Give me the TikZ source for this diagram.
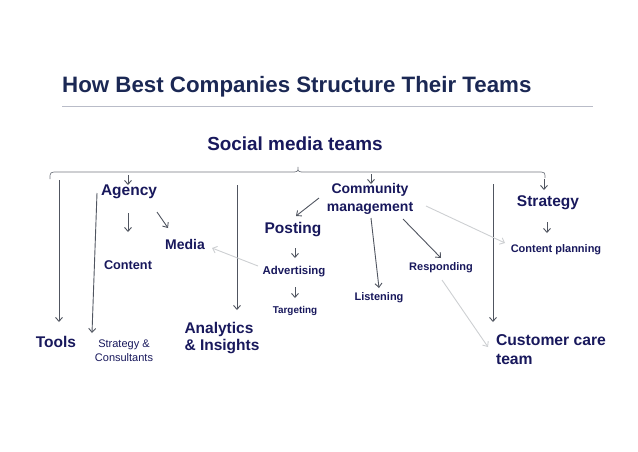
\documentclass[tikz,border=0pt]{standalone}
\usepackage{fontspec}
\setmainfont{Liberation Sans}
\usetikzlibrary{arrows.meta}
\definecolor{titlec}{RGB}{27,40,84}
\definecolor{navy}{RGB}{24,24,92}
\definecolor{arrc}{RGB}{80,85,96}
\definecolor{lightc}{RGB}{205,207,210}
\definecolor{rulec}{RGB}{185,188,200}
\tikzset{
  lbl/.style={inner sep=0pt, text=navy, font=\bfseries, align=center},
  big/.style={lbl, font=\fontsize{15.5}{17}\selectfont\bfseries},
  mid/.style={lbl, font=\fontsize{14}{18}\selectfont\bfseries},
  sml/.style={lbl, font=\fontsize{11}{13}\selectfont\bfseries},
  arr/.style={draw=arrc, line width=0.9pt, -{Straight Barb[length=4pt,width=7pt]}},
  larr/.style={draw=lightc, line width=0.9pt, -{Straight Barb[length=4pt,width=7pt]}},
}
\begin{document}
\begin{tikzpicture}[x=1pt,y=-1pt]
\useasboundingbox (0,0) rectangle (638,451);
% title
\node[inner sep=0pt, anchor=west, text=titlec, font=\fontsize{22.3}{26}\selectfont\bfseries] (title) at (62,87) {How Best Companies Structure Their Teams};
\draw[rulec, line width=0.8pt] (62,106) -- (593,106);
\node[lbl, font=\fontsize{18.9}{22}\selectfont\bfseries] (social) at (295,144) {Social media teams};
% brace
\draw[arrc!80, line width=0.7pt] (50,179) .. controls (50,172) .. (58,172) -- (290,172) .. controls (298,172) .. (298,167) .. controls (298,172) .. (306,172) -- (537,172) .. controls (545,172) .. (545,178);
% nodes
\node[big] (agency) at (129,192) {Agency};
\node[mid] (community) at (370,199) {Community\\management};
\node[big] (strategy) at (548,203) {Strategy};
\node[big] (posting) at (293,230) {Posting};
\node[mid] (media) at (185,244) {Media};
\node[lbl, font=\fontsize{12.7}{15}\selectfont\bfseries] (content) at (128,265) {Content};
\node[lbl, font=\fontsize{11.4}{13}\selectfont\bfseries] (advertising) at (294,272) {Advertising};
\node[sml] (responding) at (441,268) {Responding};
\node[sml] (cplanning) at (556,250) {Content planning};
\node[sml] (listening) at (379,298) {Listening};
\node[lbl, font=\fontsize{9.9}{12}\selectfont\bfseries] (targeting) at (295,311) {Targeting};
\node[big] (tools) at (56,342) {Tools};
\node[inner sep=0pt, text=navy, align=center, font=\fontsize{11}{14}\selectfont] (stratcons) at (124,351) {Strategy \&\\Consultants};
\node[big, align=left, font=\fontsize{15.5}{17}\selectfont\bfseries] (analytics) at (222,338) {Analytics\\\& Insights};
\node[big, align=left, font=\fontsize{15.7}{19}\selectfont\bfseries] (customer) at (551,350) {Customer care\\team};
% free-end coordinates
\coordinate (bA) at (128,175);
\coordinate (bC) at (371,174);
\coordinate (bS) at (544,179);
\coordinate (bT) at (59,180);
\coordinate (bSC) at (97,193);
\coordinate (bAn) at (237,185);
\coordinate (bCu) at (493,184);
% dark arrows
\draw[arr] (bA) -- ([shift={(-1,-7)}]agency.center);
\draw[arr] (bC) -- ([shift={(1,-15)}]community.center);
\draw[arr] (bS) -- ([shift={(-4,-13)}]strategy.center);
\draw[arr] (bT) -- ([shift={(3,-20)}]tools.center);
\draw[arr] (bSC) -- ([shift={(-32,-18)}]stratcons.center);
\draw[arr] (bAn) -- ([shift={(15,-28)}]analytics.center);
\draw[arr] (bCu) -- ([shift={(-58,-28)}]customer.center);
\draw[arr] ([shift={(-1,21)}]agency.center) -- ([shift={(0,-33)}]content.center);
\draw[arr] ([shift={(28,20)}]agency.center) -- ([shift={(-17,-16)}]media.center);
\draw[arr] ([shift={(-51,-1)}]community.center) -- ([shift={(3,-14)}]posting.center);
\draw[arr] ([shift={(2,18)}]posting.center) -- ([shift={(1,-14)}]advertising.center);
\draw[arr] ([shift={(1,15)}]advertising.center) -- ([shift={(0,-13)}]targeting.center);
\draw[arr] ([shift={(1,19)}]community.center) -- ([shift={(0,-10)}]listening.center);
\draw[arr] ([shift={(33,20)}]community.center) -- ([shift={(0,-10)}]responding.center);
\draw[arr] ([shift={(-1,19)}]strategy.center) -- ([shift={(-9,-17)}]cplanning.center);
% light arrows
\draw[larr] ([shift={(-36,-6)}]advertising.center) -- ([shift={(27,4)}]media.center);
\draw[larr] ([shift={(56,7)}]community.center) -- ([shift={(-51,-7)}]cplanning.center);
\draw[larr] ([shift={(1,12)}]responding.center) -- ([shift={(-63,-3)}]customer.center);
\end{tikzpicture}
\end{document}
